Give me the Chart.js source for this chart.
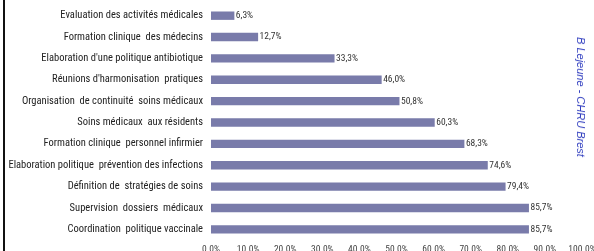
<!DOCTYPE html>
<html>
<head>
<meta charset="utf-8">
<script src="https://cdn.jsdelivr.net/npm/chart.js@4/dist/chart.umd.min.js"></script>
<style>
  html, body { margin: 0; padding: 0; background: #fff; overflow: hidden; width: 594px; height: 251px; }
  #wrap { position: relative; width: 594px; height: 251px; overflow: hidden; }
  #leftLine { position: absolute; left: 3px; top: 0; width: 2px; height: 251px; background: #111; }
  #credit {
    position: absolute; left: 581px; top: 97px;
    transform: translate(-50%, -50%) rotate(90deg);
    white-space: nowrap; font: italic 11px 'Liberation Sans', Arial, sans-serif;
    color: #3340c0;
  }
  canvas { position: absolute; left: 0; top: 0; }
</style>
</head>
<body>
<div id="wrap">
  <canvas id="chart" width="610" height="256"></canvas>
  <div id="leftLine"></div>
  <div id="credit">B Lejeune - CHRU Brest</div>
</div>
<script>
// données
const categories = [
    "Evaluation des activités médicales",
    "Formation clinique  des médecins",
    "Elaboration d'une politique antibiotique",
    "Réunions d'harmonisation  pratiques",
    "Organisation  de continuité  soins médicaux",
    "Soins médicaux  aux résidents",
    "Formation clinique  personnel infirmier",
    "Elaboration politique  prévention des infections",
    "Définition de  stratégies de soins",
    "Supervision  dossiers  médicaux",
    "Coordination  politique vaccinale"
];
const values = [6.3, 12.7, 33.3, 46.0, 50.8, 60.3, 68.3, 74.6, 79.4, 85.7, 85.7];
const xMin = 0, xMax = 100, xStep = 10;

const FONT = "'Roboto Condensed', 'DejaVu Sans Condensed', sans-serif";
const BAR_COLOR = 'rgb(121, 123, 170)';

// étiquettes de valeur au bout des barres
const valueLabels = {
    id: 'valueLabels',
    afterDatasetsDraw(chart) {
        const ctx = chart.ctx;
        const meta = chart.getDatasetMeta(0);
        ctx.save();
        ctx.font = '9.5px ' + FONT;
        ctx.fillStyle = '#333';
        ctx.textBaseline = 'middle';
        ctx.textAlign = 'left';
        meta.data.forEach((bar, i) => {
            const txt = values[i].toFixed(1).replace('.', ',') + '%';
            ctx.fillText(txt, bar.x + 1.5, bar.y);
        });
        ctx.restore();
    }
};

new Chart(document.getElementById('chart'), {
    type: 'bar',
    data: {
        labels: categories,
        datasets: [{
            data: values,
            backgroundColor: BAR_COLOR,
            borderWidth: 0,
            barPercentage: 0.8,
            categoryPercentage: 0.49
        }]
    },
    options: {
        indexAxis: 'y',
        responsive: false,
        animation: false,
        layout: { padding: { top: 5, right: 28, left: 0, bottom: 0 } },
        plugins: { legend: { display: false }, tooltip: { enabled: false } },
        scales: {
            x: {
                min: xMin, max: xMax,
                afterFit(scale) {
                    scale.height = 16;
                    scale.paddingLeft = 0;
                    scale.paddingRight = 0;
                },
                grid: { display: false, drawTicks: false },
                border: { display: false },
                ticks: {
                    stepSize: xStep,
                    padding: 4,
                    maxRotation: 0,
                    autoSkip: false,
                    color: '#444',
                    font: { family: FONT, size: 9.5 },
                    callback: v => v.toFixed(1) + '%'
                }
            },
            y: {
                afterFit(scale) {
                    scale.width = 211;
                    scale.paddingTop = 0;
                    scale.paddingBottom = 0;
                },
                grid: { display: false, drawTicks: false },
                border: { display: false },
                ticks: {
                    padding: 8,
                    color: '#222',
                    font: { family: FONT, size: 10.5 }
                }
            }
        }
    },
    plugins: [valueLabels]
});
</script>
</body>
</html>
